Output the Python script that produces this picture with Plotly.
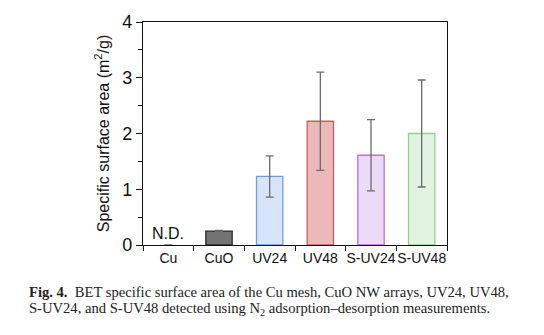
import plotly.graph_objects as go

categories = ["Cu", "CuO", "UV24", "UV48", "S-UV24", "S-UV48"]
values = [0, 0.25, 1.23, 2.22, 1.61, 2.00]
errors = [0, 0.01, 0.37, 0.88, 0.64, 0.96]
fill_colors = ["rgba(0,0,0,0)", "#737373", "#d7e5fa", "#ebb9b9", "#ecdbf7", "#e3f3e2"]
line_colors = ["rgba(0,0,0,0)", "#2b2b2b", "#6f9ce8", "#d05b5b", "#b46fe0", "#92d18f"]
y_ticks = [0, 1, 2, 3, 4]

W, H = 544, 335
L, R, T, B = 143, 97, 18, 90
pw = W - L - R
ph = H - T - B

def px(x):
    return (x - L) / pw

def py(y):
    return (H - B - y) / ph

fig = go.Figure()
fig.add_trace(go.Bar(
    x=categories, y=values, width=0.52,
    marker=dict(color=fill_colors, line=dict(color=line_colors, width=1.3)),
    error_y=dict(type="data", array=errors, visible=True, color="#6b6b6b",
                 thickness=1.3, width=4),
    showlegend=False,
))

fig.add_annotation(x="Cu", y=0.02, yanchor="bottom", text="N.D.", showarrow=False,
                   font=dict(family="Liberation Sans, Arial", size=16, color="#111"))

fig.update_layout(
    width=W, height=H,
    margin=dict(l=L, r=R, t=T, b=B),
    paper_bgcolor="white", plot_bgcolor="white",
    bargap=0.48,
    font=dict(family="Liberation Sans, Arial", color="#111"),
)
fig.update_xaxes(
    type="category", tickson="boundaries", ticks="outside", ticklen=5,
    tickwidth=1, tickcolor="#111", showline=True, linecolor="#111", linewidth=1.2,
    mirror=True, showgrid=False, tickfont=dict(size=14, color="#111"),
    tickangle=0, range=[-0.5, 5.5],
)
fig.update_yaxes(
    range=[0, 4], tickvals=y_ticks, ticks="outside", ticklen=6, tickwidth=1,
    tickcolor="#111", showline=True, linecolor="#111", linewidth=1.2, mirror=True,
    showgrid=False, zeroline=False, tickfont=dict(size=18, color="#111"),
    minor=dict(dtick=0.5, ticks="outside", ticklen=4, tickcolor="#111", tickwidth=1),
    title=dict(text="Specific surface area (m<sup>2</sup>/g)",
               font=dict(size=16, color="#111"), standoff=8),
)

cap_font = dict(family="Liberation Serif, Times New Roman, serif", size=14.6, color="#222")
fig.add_annotation(xref="paper", yref="paper", x=px(27), y=py(293), xanchor="left",
                   yanchor="middle", showarrow=False, align="left", font=cap_font,
                   text="<b>Fig. 4.</b>  BET specific surface area of the Cu mesh, CuO NW arrays, UV24, UV48,")
fig.add_annotation(xref="paper", yref="paper", x=px(27), y=py(310), xanchor="left",
                   yanchor="middle", showarrow=False, align="left", font=cap_font,
                   text="S-UV24, and S-UV48 detected using N<sub>2</sub> adsorption\u2013desorption measurements.")

fig.write_html("out.html")
